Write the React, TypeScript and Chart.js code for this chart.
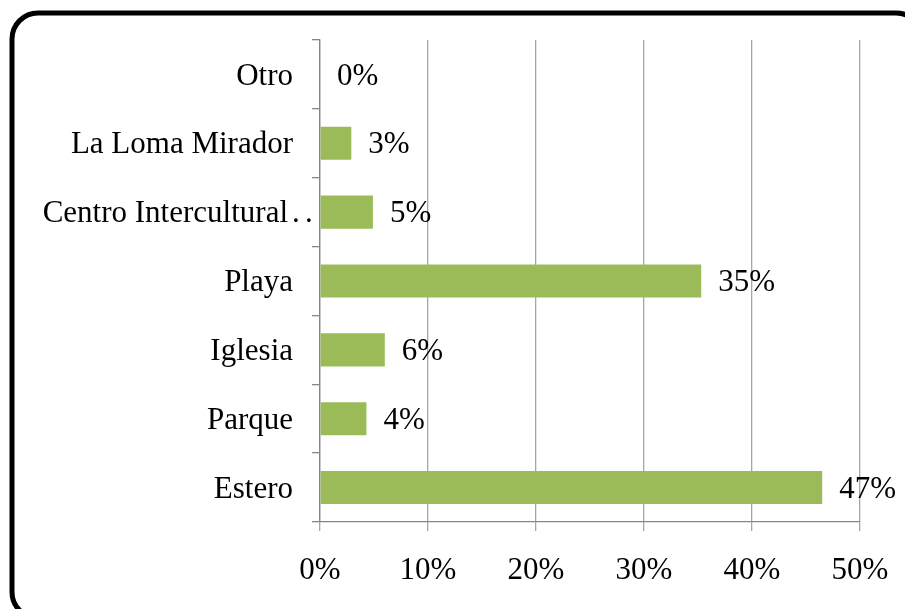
import React, { useEffect, useRef } from "react";
import { Chart, registerables } from "chart.js";

Chart.register(...registerables);

const categories = [
  "Otro",
  "La Loma Mirador",
  "Centro Intercultural…",
  "Playa",
  "Iglesia",
  "Parque",
  "Estero",
];
const values = [0, 2.9, 4.9, 35.3, 6.0, 4.3, 46.5];
const valueLabels = ["0%", "3%", "5%", "35%", "6%", "4%", "47%"];
const xTicks = [0, 10, 20, 30, 40, 50];

const FONT = "'Liberation Serif', 'Times New Roman', serif";
const FS = 31;

const framePlugin = {
  id: "frame",
  afterDraw(chart: any) {
    const ctx = chart.ctx;
    ctx.save();
    ctx.strokeStyle = "#000";
    ctx.lineWidth = 5;
    ctx.beginPath();
    (ctx as any).roundRect(12, 13, 910, 605, 26);
    ctx.stroke();
    ctx.restore();
  },
};

const yLabelPlugin = {
  id: "yLabels",
  afterDraw(chart: any) {
    const ctx = chart.ctx;
    const y = chart.scales.y;
    ctx.save();
    ctx.font = `${FS}px ${FONT}`;
    ctx.fillStyle = "#000";
    ctx.textBaseline = "middle";
    categories.forEach((label, i) => {
      const py = y.getPixelForTick(i) + 2;
      if (label.endsWith("…")) {
        const main = label.slice(0, -1);
        ctx.textAlign = "right";
        ctx.fillText(main, 288, py);
        ctx.textAlign = "left";
        ctx.fillText(".", 292, py);
        ctx.fillText(".", 305, py);
      } else {
        ctx.textAlign = "right";
        ctx.fillText(label, 293, py);
      }
    });
    ctx.restore();
  },
};

const labelPlugin = {
  id: "valueLabels",
  afterDatasetsDraw(chart: any) {
    const ctx = chart.ctx;
    const meta = chart.getDatasetMeta(0);
    ctx.save();
    ctx.font = `${FS}px ${FONT}`;
    ctx.fillStyle = "#000";
    ctx.textAlign = "left";
    ctx.textBaseline = "middle";
    meta.data.forEach((bar: any, i: number) => {
      ctx.fillText(valueLabels[i], bar.x + 17, bar.y + 2);
    });
    ctx.restore();
  },
};

export default function App() {
  const ref = useRef<HTMLCanvasElement>(null);
  useEffect(() => {
    if (!ref.current) return;
    const chart = new Chart(ref.current, {
      type: "bar",
      data: {
        labels: categories,
        datasets: [
          {
            data: values,
            backgroundColor: "#9BBB59",
            borderWidth: 0,
            categoryPercentage: 1,
            barPercentage: 0.48,
          },
        ],
      },
      options: {
        indexAxis: "y",
        responsive: false,
        animation: false,
        devicePixelRatio: 1,
        layout: { padding: { left: 0, top: 40, right: 45, bottom: 0 } },
        plugins: {
          legend: { display: false },
          tooltip: { enabled: false },
        },
        scales: {
          x: {
            min: 0,
            max: 50,
            afterFit(scale: any) {
              scale.height = 87;
              scale.paddingLeft = 0;
              scale.paddingRight = 0;
            },
            afterBuildTicks(scale: any) {
              scale.ticks = xTicks.map((v) => ({ value: v }));
            },
            grid: {
              color: "#a6a6a6",
              lineWidth: 1.3,
              tickLength: 9,
              drawTicks: true,
            },
            border: { color: "#868686", width: 1.3 },
            ticks: {
              color: "#000",
              font: { family: FONT, size: FS },
              padding: 21,
              maxRotation: 0,
              callback: (v: any) => `${v}%`,
            },
          },
          y: {
            afterFit(scale: any) {
              scale.width = 320;
              scale.paddingTop = 0;
              scale.paddingBottom = 0;
            },
            grid: {
              drawOnChartArea: false,
              color: "#868686",
              lineWidth: 1.3,
              tickLength: 8,
              offset: true,
            },
            border: { color: "#868686", width: 1.3 },
            ticks: {
              display: false,
              autoSkip: false,
            },
          },
        },
      },
      plugins: [labelPlugin, yLabelPlugin, framePlugin],
    });
    return () => chart.destroy();
  }, []);
  return (
    <div style={{ position: "absolute", left: 0, top: 0, width: 905, height: 609, overflow: "hidden", background: "#fff" }}>
      <canvas ref={ref} width={905} height={609} style={{ display: "block" }} />
    </div>
  );
}
